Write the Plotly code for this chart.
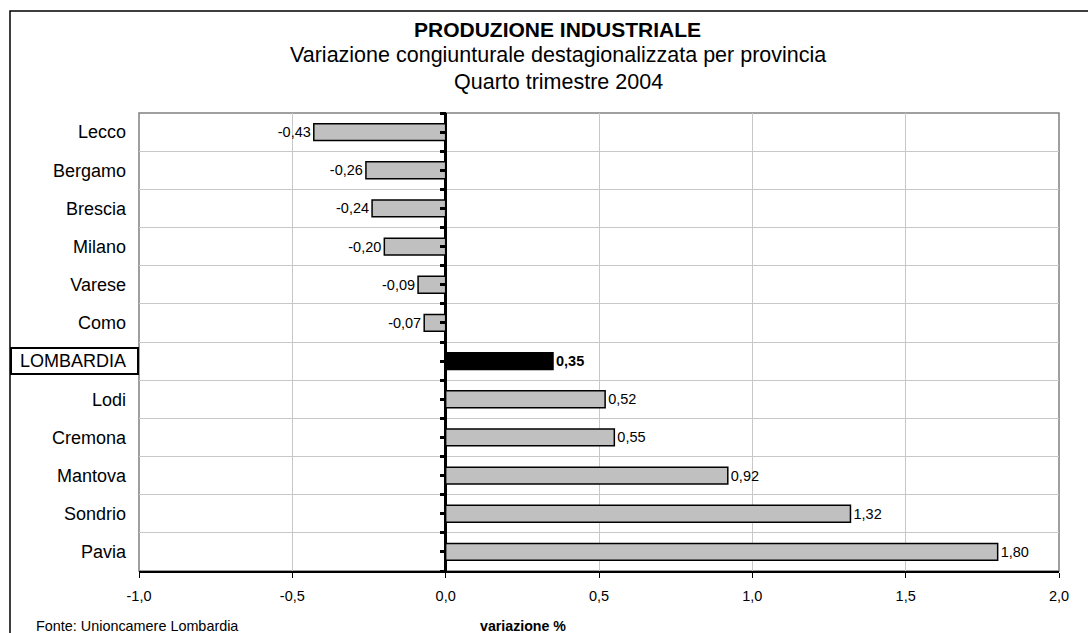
import plotly.graph_objects as go

categories = ["Lecco", "Bergamo", "Brescia", "Milano", "Varese", "Como",
              "LOMBARDIA", "Lodi", "Cremona", "Mantova", "Sondrio", "Pavia"]
values = [-0.43, -0.26, -0.24, -0.20, -0.09, -0.07, 0.35, 0.52, 0.55, 0.92, 1.32, 1.80]
x_ticks = [-1.0, -0.5, 0.0, 0.5, 1.0, 1.5, 2.0]
x_ticklabels = ["-1,0", "-0,5", "0,0", "0,5", "1,0", "1,5", "2,0"]
highlight = "LOMBARDIA"

FONT = "Liberation Sans, Arial, sans-serif"
W, H = 1088, 633
L, R, T, B = 139, 29, 113, 62
PW, PH = W - L - R, H - T - B


def py(p):
    return (H - B - p) / PH


def px(p):
    return (p - L) / PW


def fmt(v):
    return f"{v:.2f}".replace(".", ",")


colors = ["#000000" if c == highlight else "#c0c0c0" for c in categories]
texts = [f"<b>{fmt(v)}</b>" if c == highlight else fmt(v) for c, v in zip(categories, values)]

fig = go.Figure()
fig.add_trace(go.Bar(
    x=values, y=categories, orientation="h",
    marker=dict(color=colors, line=dict(color="#000000", width=1.5)),
    width=0.44,
    text=texts, textposition="outside", cliponaxis=False,
    textfont=dict(family=FONT, size=14.5, color="#000000"),
    showlegend=False, hoverinfo="skip",
))
# helper trace for the tick axis drawn at x = 0
fig.add_trace(go.Scatter(x=[0], y=[0], yaxis="y2", mode="markers",
                         marker=dict(opacity=0), showlegend=False, hoverinfo="skip"))

zero_pos = (0 - x_ticks[0]) / (x_ticks[-1] - x_ticks[0])

fig.update_layout(
    width=W, height=H,
    margin=dict(l=L, r=R, t=T, b=B),
    paper_bgcolor="white", plot_bgcolor="white",
    font=dict(family=FONT, color="#000000"),
    bargap=0.56,
    xaxis=dict(
        range=[-1.0, 2.0], domain=[0, 1],
        tickvals=x_ticks, ticktext=x_ticklabels,
        tickfont=dict(size=14.5, color="#000000"),
        ticks="outside", ticklen=5, tickwidth=1.2, tickcolor="#000000",
        ticklabelstandoff=6,
        showgrid=True, gridcolor="#c8c8c8", gridwidth=1,
        zeroline=True, zerolinecolor="#000000", zerolinewidth=3,
        showline=True, linecolor="#000000", linewidth=1.5,
        fixedrange=True,
    ),
    yaxis=dict(
        type="category", categoryorder="array", categoryarray=categories,
        range=[11.5, -0.5],
        tickson="boundaries",
        ticks="", showgrid=True, gridcolor="#c8c8c8", gridwidth=1,
        tickfont=dict(size=18, color="#000000"),
        ticklabelstandoff=12,
        showline=False, zeroline=False, fixedrange=True,
    ),
    yaxis2=dict(
        overlaying="y", anchor="free", position=zero_pos, side="left",
        range=[11.5, -0.5], tick0=-0.5, dtick=0.5,
        ticks="outside", ticklen=6, tickwidth=3, tickcolor="#000000",
        showticklabels=False, showgrid=False, zeroline=False,
        showline=False, fixedrange=True,
    ),
)

shapes = [
    # plot area border
    dict(type="rect", xref="paper", yref="paper", x0=0, x1=1, y0=0, y1=1,
         line=dict(color="#808080", width=1.5), layer="below"),
    # outer chart frame
    dict(type="rect", xref="paper", yref="paper", x0=px(10), x1=px(1200),
         y0=py(700), y1=py(11), line=dict(color="#000000", width=1.5)),
    # box around highlighted label
    dict(type="rect", xref="paper", yref="y",
         x0=px(11), x1=px(138),
         y0=categories.index(highlight) - 0.34, y1=categories.index(highlight) + 0.34,
         line=dict(color="#000000", width=2)),
]
fig.update_layout(shapes=shapes)

annotations = [
    dict(text="<b>PRODUZIONE INDUSTRIALE</b>", x=px(557), y=py(29), font=dict(size=21)),
    dict(text="Variazione congiunturale destagionalizzata per provincia", x=px(558), y=py(55), font=dict(size=21.5)),
    dict(text="Quarto trimestre 2004", x=px(558), y=py(82), font=dict(size=21.5)),
    dict(text="Fonte: Unioncamere Lombardia", x=px(34), y=py(626), xanchor="left", font=dict(size=14.4)),
    dict(text="<b>variazione %</b>", x=px(523), y=py(626), font=dict(size=14.2)),
]
for a in annotations:
    a.setdefault("xanchor", "center")
    a.update(xref="paper", yref="paper", yanchor="middle", showarrow=False)
    a["font"].update(family=FONT, color="#000000")
fig.update_layout(annotations=annotations)

fig.write_html("out.html", config={"displayModeBar": False},
               post_script="document.body.style.margin='0';")
